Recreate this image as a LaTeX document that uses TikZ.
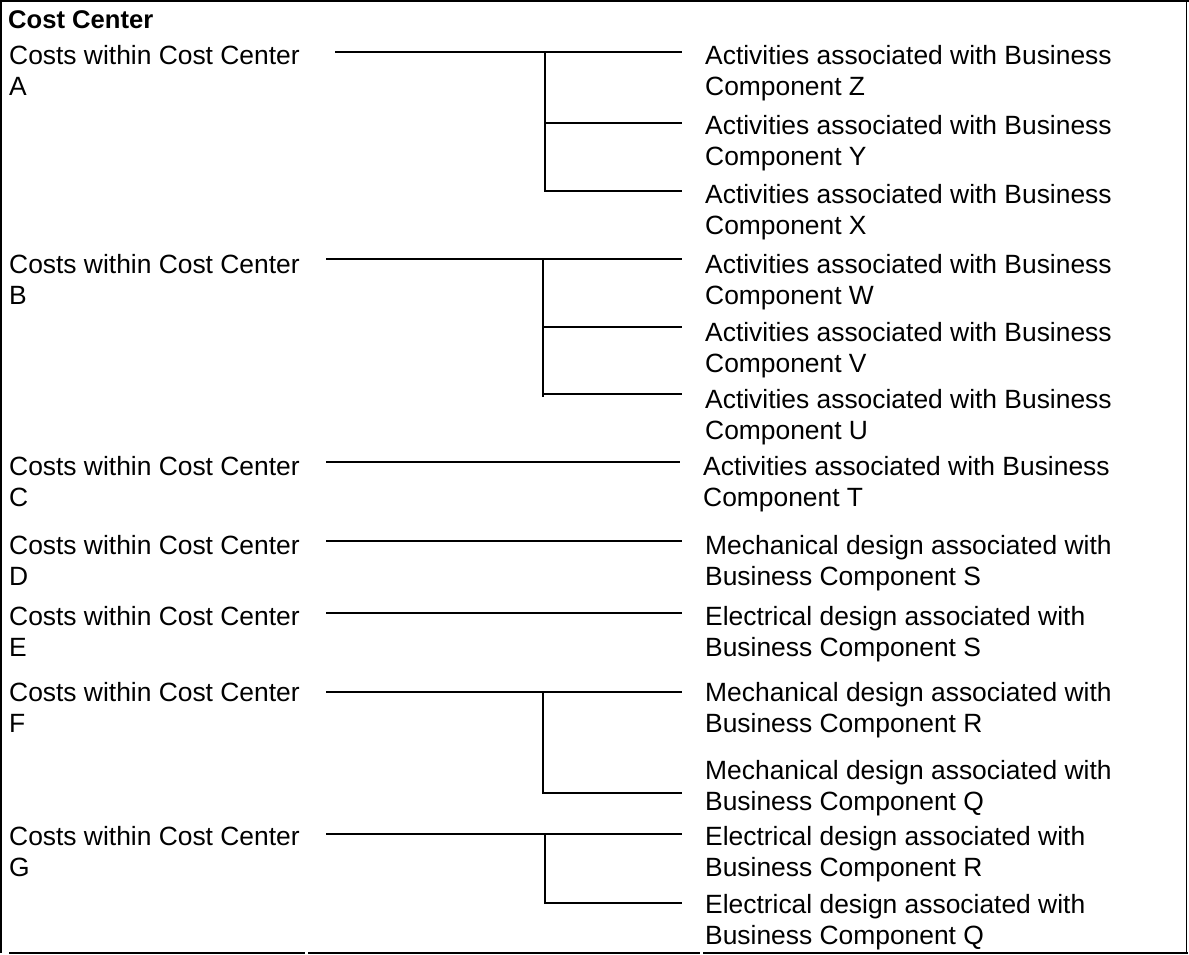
\documentclass[tikz,border=0pt]{standalone}
\usepackage{fontspec}
\setmainfont{Liberation Sans}
\usetikzlibrary{calc}

\begin{document}
\begin{tikzpicture}[x=1pt, y=-1pt,
    ln/.style={line width=1.8pt},
    cc/.style={anchor=north west, align=left, inner xsep=0pt, inner ysep=0pt,
      font=\fontsize{26.4}{31}\selectfont, execute at begin node=\strut},
    act/.style={cc, inner xsep=23pt},]
  \useasboundingbox (0,0) rectangle (1189,954);
  % frame
  \draw[ln] (0,1) -- (1189,1);
  \draw[ln] (1,0) -- (1,953);
  \draw[ln] (1186.5,0) -- (1186.5,953);
  \draw[ln] (9,953) -- (305,953);
  \draw[ln] (308,953) -- (700,953);
  \draw[ln] (703,953) -- (1188,953);

  \node [cc, font=\bfseries\fontsize{25.6}{31}\selectfont] (hd) at (8,6.3) {Cost Center};

  \node [cc] (ccA) at (9,45.3) {Costs within Cost Center\\A};
  \node [cc] (ccB) at (9,254.3) {Costs within Cost Center\\B};
  \node [cc] (ccC) at (9,456.3) {Costs within Cost Center\\C};
  \node [cc] (ccD) at (9,535.3) {Costs within Cost Center\\D};
  \node [cc] (ccE) at (9,606.3) {Costs within Cost Center\\E};
  \node [cc] (ccF) at (9,682.3) {Costs within Cost Center\\F};
  \node [cc] (ccG) at (9,826.3) {Costs within Cost Center\\G};

  \node [act] (actZ) at (682,45.3) {Activities associated with Business\\Component Z};
  \node [act] (actY) at (682,115.3) {Activities associated with Business\\Component Y};
  \node [act] (actX) at (682,184.3) {Activities associated with Business\\Component X};
  \node [act] (actW) at (682,254.3) {Activities associated with Business\\Component W};
  \node [act] (actV) at (682,322.3) {Activities associated with Business\\Component V};
  \node [act] (actU) at (682,389.3) {Activities associated with Business\\Component U};
  \node [act] (actT) at (680,456.3) {Activities associated with Business\\Component T};
  \node [act] (mechS) at (682,535.3) {Mechanical design associated with\\Business Component S};
  \node [act] (elecS) at (682,606.3) {Electrical design associated with\\Business Component S};
  \node [act] (mechR) at (682,682.3) {Mechanical design associated with\\Business Component R};
  \node [act] (mechQ) at (682,760.3) {Mechanical design associated with\\Business Component Q};
  \node [act] (elecR) at (682,826.3) {Electrical design associated with\\Business Component R};
  \node [act] (elecQ) at (682,894.3) {Electrical design associated with\\Business Component Q};

  % A
  \coordinate (sA) at (335,52);
  \coordinate (jA) at (545,52);
  \coordinate (jY) at (545,123);
  \coordinate (jX) at (545,191);
  \draw[ln] (sA) -- (sA -| actZ.west);
  \draw[ln] (jA) -- (jX) -- (jX -| actX.west);
  \draw[ln] (jY) -- (jY -| actY.west);
  % B
  \coordinate (sB) at (326,259);
  \coordinate (jB) at (543,259);
  \coordinate (jV) at (543,327);
  \coordinate (jU) at (543,394);
  \draw[ln] (sB) -- (sB -| actW.west);
  \draw[ln] (jB) -- (543,397);
  \draw[ln] (jV) -- (jV -| actV.west);
  \draw[ln] (jU) -- (jU -| actU.west);
  % C, D, E
  \coordinate (sC) at (326,462);
  \coordinate (sD) at (326,541);
  \coordinate (sE) at (326,613);
  \draw[ln] (sC) -- (sC -| actT.west);
  \draw[ln] (sD) -- (sD -| mechS.west);
  \draw[ln] (sE) -- (sE -| elecS.west);
  % F
  \coordinate (sF) at (326,692);
  \coordinate (jF) at (543,692);
  \coordinate (jQ) at (543,793);
  \draw[ln] (sF) -- (sF -| mechR.west);
  \draw[ln] (jF) -- (jQ) -- (jQ -| mechQ.west);
  % G
  \coordinate (sG) at (326,834);
  \coordinate (jG) at (545,834);
  \coordinate (jQQ) at (545,903);
  \draw[ln] (sG) -- (sG -| elecR.west);
  \draw[ln] (jG) -- (jQQ) -- (jQQ -| elecQ.west);
\end{tikzpicture}
\end{document}
